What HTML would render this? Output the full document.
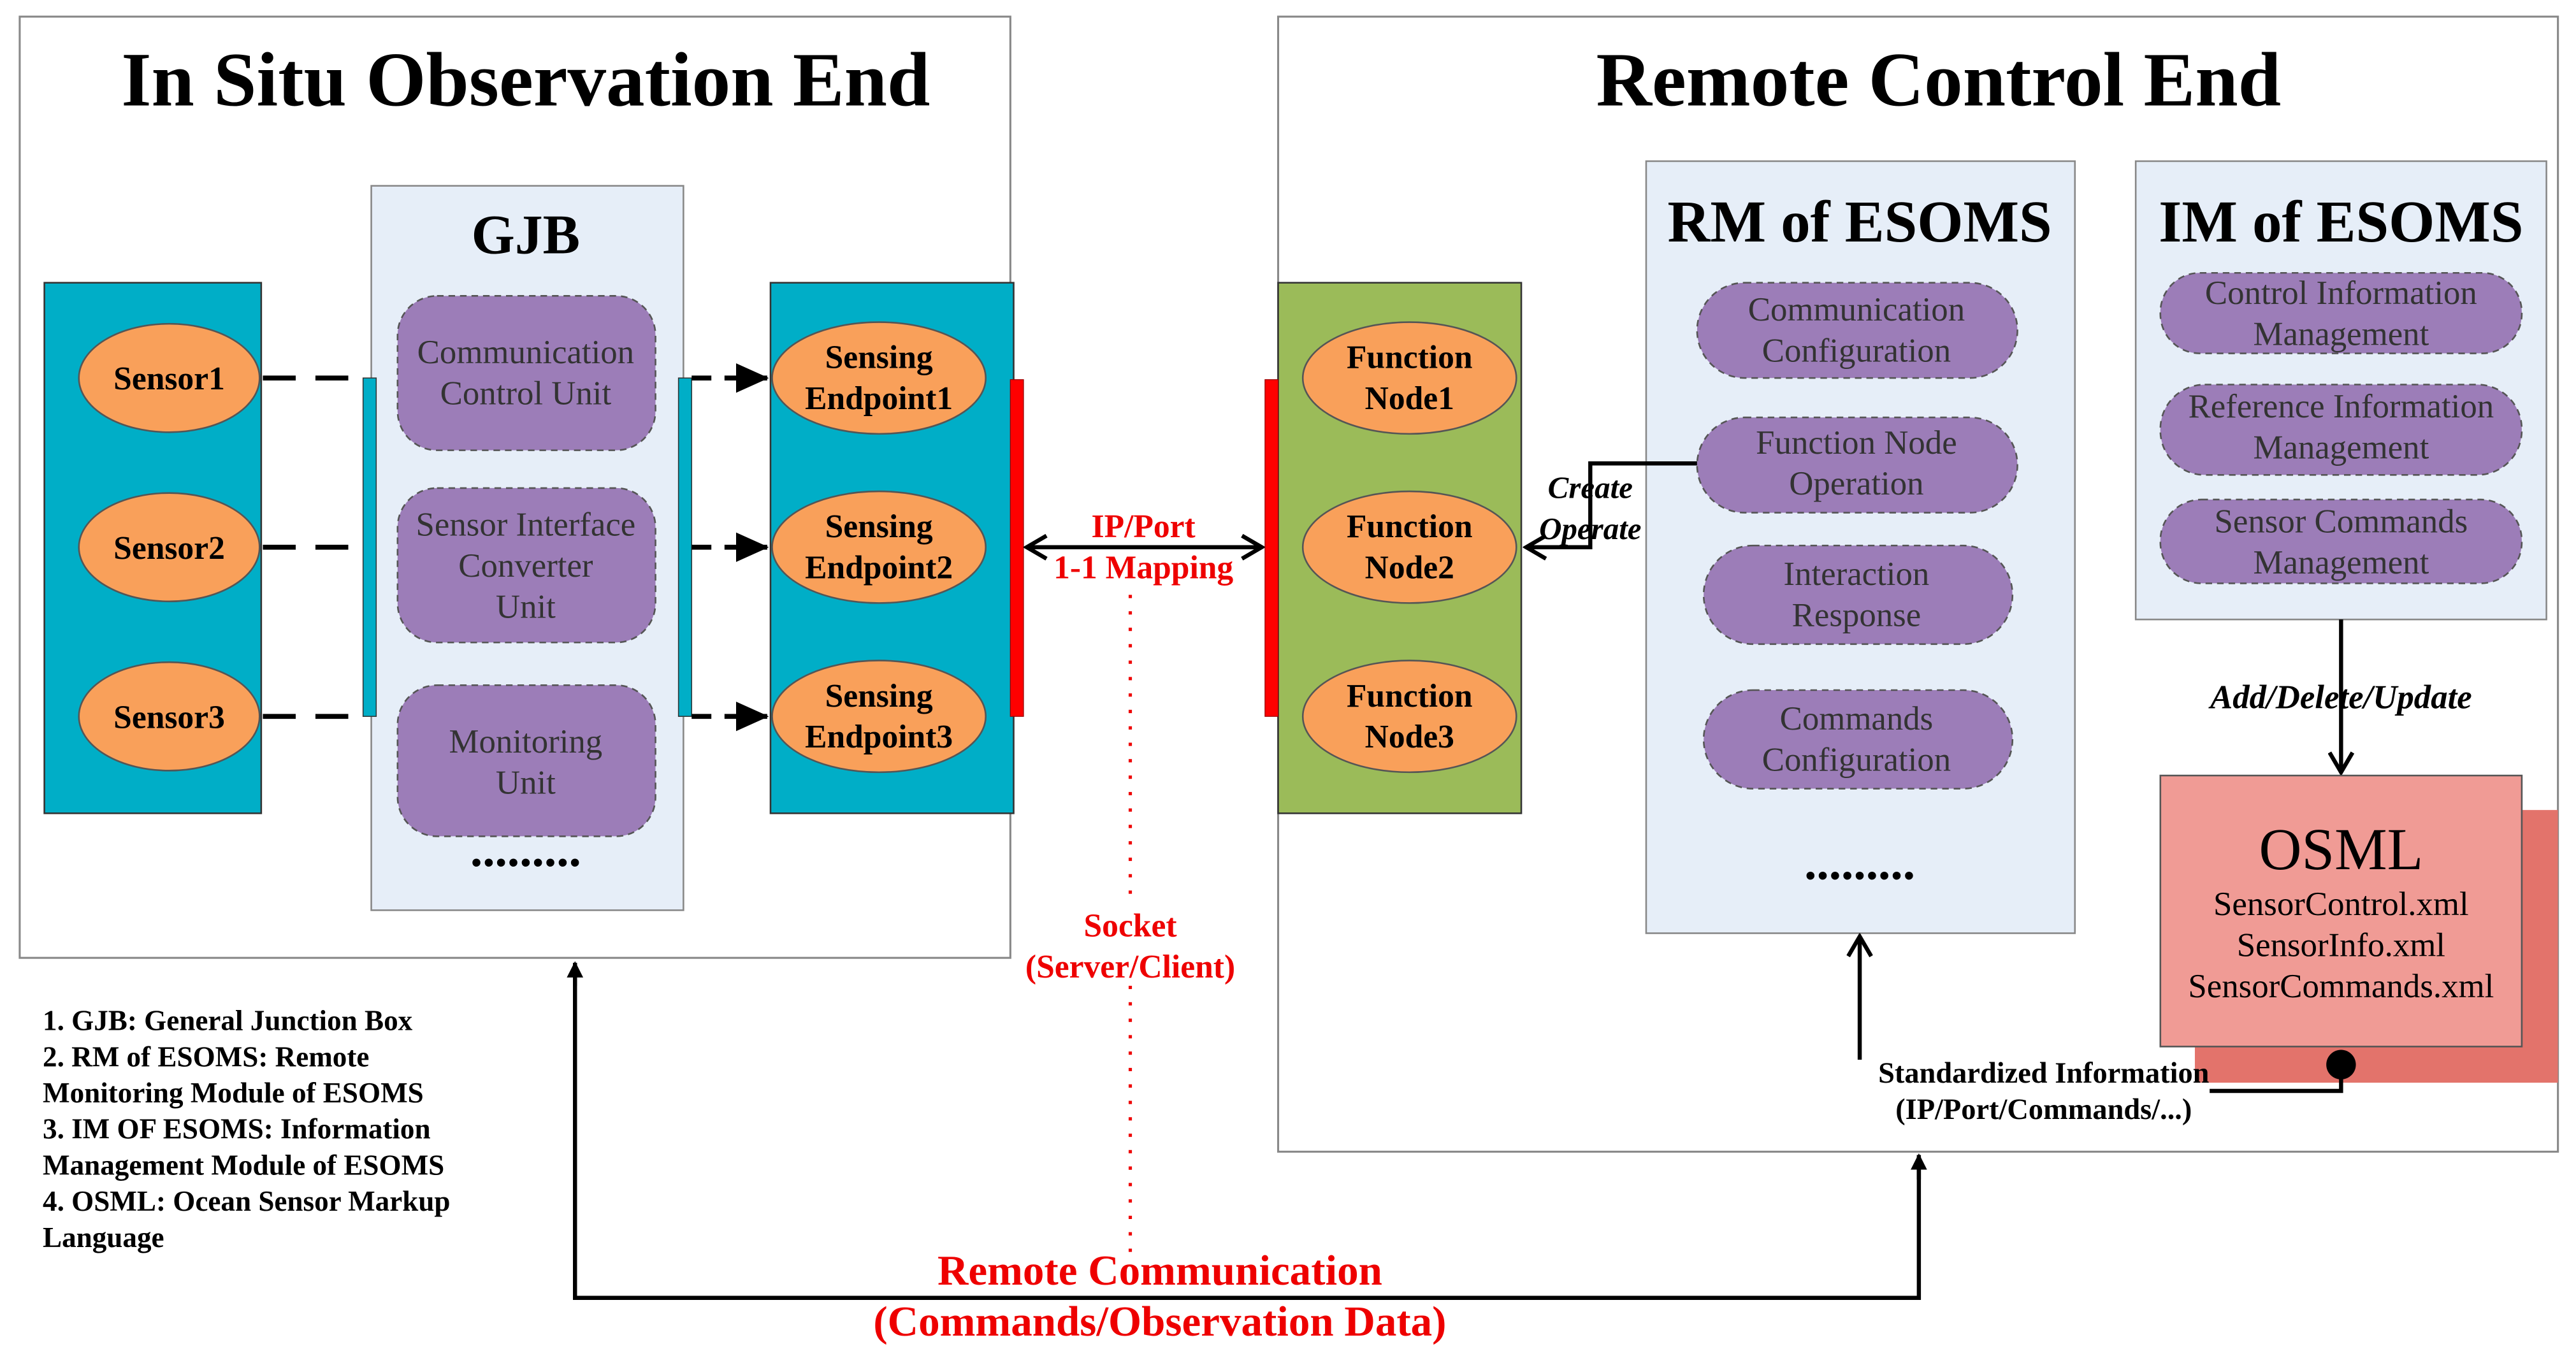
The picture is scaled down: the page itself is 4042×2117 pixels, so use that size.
<!DOCTYPE html>
<html><head><meta charset="utf-8"><style>html,body{margin:0;padding:0;background:#fff}svg{display:block}text{font-family:"Liberation Serif",serif}</style></head><body>
<svg width="4042" height="2117" viewBox="0 0 1568 821" xmlns="http://www.w3.org/2000/svg">
<defs>
<marker id="fa" markerWidth="10" markerHeight="10" refX="9" refY="5" orient="auto" markerUnits="userSpaceOnUse"><path d="M0,0 L10,5 L0,10 z" fill="#000"/></marker>
<marker id="fb" markerWidth="20" markerHeight="18" refX="19" refY="9" orient="auto" markerUnits="userSpaceOnUse"><path d="M0,0 L20,9 L0,18 z" fill="#000"/></marker>
<marker id="oa" markerWidth="16" markerHeight="16" refX="14" refY="8" orient="auto-start-reverse" markerUnits="userSpaceOnUse"><path d="M2,1 L14,8 L2,15" fill="none" stroke="#000" stroke-width="2.5"/></marker>
</defs>
<rect x="12" y="10" width="603" height="573" fill="#fff" stroke="#888" stroke-width="1.2"/>
<text x="320" y="64" font-size="47" font-weight="bold" text-anchor="middle">In Situ Observation End</text>
<rect x="27" y="172" width="132" height="323" fill="#00aec7" stroke="#333" stroke-width="1"/>
<g fill="#f9a05a" stroke="#555" stroke-width="1">
<ellipse cx="103" cy="230" rx="55" ry="33"/><ellipse cx="103" cy="333" rx="55" ry="33"/><ellipse cx="103" cy="436" rx="55" ry="33"/>
</g>
<g font-size="20" font-weight="bold" text-anchor="middle">
<text x="103" y="237">Sensor1</text><text x="103" y="340">Sensor2</text><text x="103" y="443">Sensor3</text>
</g>
<g stroke="#000" stroke-width="3" stroke-dasharray="20,12">
<line x1="160" y1="230" x2="222" y2="230"/><line x1="160" y1="333" x2="222" y2="333"/><line x1="160" y1="436" x2="222" y2="436"/>
</g>
<rect x="226" y="113" width="190" height="441" fill="#e6eef8" stroke="#888"/>
<rect x="221" y="230" width="8" height="206" fill="#00aec7" stroke="#333" stroke-width="0.6"/>
<text x="320" y="154" font-size="34" font-weight="bold" text-anchor="middle">GJB</text>
<g fill="#9c7db8" stroke="#555" stroke-dasharray="4,3">
<rect x="242" y="180" width="157" height="94" rx="24"/><rect x="242" y="297" width="157" height="94" rx="24"/><rect x="242" y="417" width="157" height="92" rx="24"/>
</g>
<g font-size="20.5" fill="#333" text-anchor="middle">
<text x="320" y="221">Communication</text><text x="320" y="246">Control Unit</text>
<text x="320" y="326">Sensor Interface</text><text x="320" y="351">Converter</text><text x="320" y="376">Unit</text>
<text x="320" y="458">Monitoring</text><text x="320" y="483">Unit</text>
</g>
<text x="320" y="527" font-size="30" font-weight="bold" text-anchor="middle">.........</text>
<rect x="413" y="230" width="8" height="206" fill="#00aec7" stroke="#333" stroke-width="0.6"/>
<g stroke="#000" stroke-width="3" stroke-dasharray="12,8">
<line x1="421" y1="230" x2="467" y2="230" marker-end="url(#fb)"/><line x1="421" y1="333" x2="467" y2="333" marker-end="url(#fb)"/><line x1="421" y1="436" x2="467" y2="436" marker-end="url(#fb)"/>
</g>
<rect x="469" y="172" width="148" height="323" fill="#00aec7" stroke="#333"/>
<g fill="#f9a05a" stroke="#555"><ellipse cx="535" cy="230" rx="65" ry="34"/><ellipse cx="535" cy="333" rx="65" ry="34"/><ellipse cx="535" cy="436" rx="65" ry="34"/></g>
<g font-size="20" font-weight="bold" text-anchor="middle">
<text x="535" y="224">Sensing</text><text x="535" y="249">Endpoint1</text>
<text x="535" y="327">Sensing</text><text x="535" y="352">Endpoint2</text>
<text x="535" y="430">Sensing</text><text x="535" y="455">Endpoint3</text>
</g>
<rect x="615" y="231" width="8" height="205" fill="#f00" stroke="#900" stroke-width="0.5"/>
<line x1="625" y1="333" x2="768" y2="333" stroke="#000" stroke-width="2.5" marker-start="url(#oa)" marker-end="url(#oa)"/>
<g fill="#e00" font-size="20" font-weight="bold" text-anchor="middle">
<text x="696" y="327">IP/Port</text><text x="696" y="352">1-1 Mapping</text>
<text x="688" y="570">Socket</text><text x="688" y="595">(Server/Client)</text>
<text x="706" y="782" font-size="26">Remote Communication</text><text x="706" y="813" font-size="26">(Commands/Observation Data)</text>
</g>
<line x1="688" y1="362" x2="688" y2="545" stroke="#e00" stroke-width="2" stroke-dasharray="2,8"/>
<line x1="688" y1="600" x2="688" y2="762" stroke="#e00" stroke-width="2" stroke-dasharray="2,8"/>
<rect x="778" y="10" width="779" height="691" fill="#fff" stroke="#888" stroke-width="1.2"/>
<text x="1180" y="64" font-size="47" font-weight="bold" text-anchor="middle">Remote Control End</text>
<rect x="778" y="172" width="148" height="323" fill="#9bbb59" stroke="#333"/>
<rect x="770" y="231" width="8" height="205" fill="#f00" stroke="#900" stroke-width="0.5"/>
<g fill="#f9a05a" stroke="#555"><ellipse cx="858" cy="230" rx="65" ry="34"/><ellipse cx="858" cy="333" rx="65" ry="34"/><ellipse cx="858" cy="436" rx="65" ry="34"/></g>
<g font-size="20" font-weight="bold" text-anchor="middle">
<text x="858" y="224">Function</text><text x="858" y="249">Node1</text>
<text x="858" y="327">Function</text><text x="858" y="352">Node2</text>
<text x="858" y="430">Function</text><text x="858" y="455">Node3</text>
</g>
<rect x="1002" y="98" width="261" height="470" fill="#e6eef8" stroke="#888"/>
<text x="1132" y="147" font-size="36" font-weight="bold" text-anchor="middle">RM of ESOMS</text>
<g fill="#9c7db8" stroke="#555" stroke-dasharray="4,3">
<rect x="1033" y="172" width="195" height="58" rx="29"/><rect x="1033" y="254" width="195" height="58" rx="29"/><rect x="1037" y="332" width="188" height="60" rx="30"/><rect x="1037" y="420" width="188" height="60" rx="30"/>
</g>
<g font-size="20.5" fill="#333" text-anchor="middle">
<text x="1130" y="195">Communication</text><text x="1130" y="220">Configuration</text>
<text x="1130" y="276">Function Node</text><text x="1130" y="301">Operation</text>
<text x="1130" y="356">Interaction</text><text x="1130" y="381">Response</text>
<text x="1130" y="444">Commands</text><text x="1130" y="469">Configuration</text>
</g>
<text x="1132" y="535" font-size="30" font-weight="bold" text-anchor="middle">.........</text>
<polyline points="1033,282 968,282 968,333 929,333" fill="none" stroke="#000" stroke-width="2.5" marker-end="url(#oa)"/>
<g font-size="19" font-weight="bold" font-style="italic" text-anchor="middle">
<text x="968" y="303">Create</text><text x="968" y="328">Operate</text>
<text x="1425" y="431" font-size="20.5">Add/Delete/Update</text>
</g>
<rect x="1300" y="98" width="250" height="279" fill="#e6eef8" stroke="#888"/>
<text x="1425" y="147" font-size="36" font-weight="bold" text-anchor="middle">IM of ESOMS</text>
<g fill="#9c7db8" stroke="#555" stroke-dasharray="4,3">
<rect x="1315" y="166" width="220" height="49" rx="24"/><rect x="1315" y="234" width="220" height="55" rx="27"/><rect x="1315" y="304" width="220" height="51" rx="25"/>
</g>
<g font-size="20.5" fill="#333" text-anchor="middle">
<text x="1425" y="185">Control Information</text><text x="1425" y="210">Management</text>
<text x="1425" y="254">Reference Information</text><text x="1425" y="279">Management</text>
<text x="1425" y="324">Sensor Commands</text><text x="1425" y="349">Management</text>
</g>
<line x1="1425" y1="377" x2="1425" y2="470" stroke="#000" stroke-width="2.5" marker-end="url(#oa)"/>
<rect x="1336" y="493" width="221" height="166" fill="#e3736b"/>
<rect x="1315" y="472" width="220" height="165" fill="#f09b95" stroke="#555"/>
<text x="1425" y="529" font-size="36" text-anchor="middle">OSML</text>
<g font-size="20.5" text-anchor="middle"><text x="1425" y="557">SensorControl.xml</text><text x="1425" y="582">SensorInfo.xml</text><text x="1425" y="607">SensorCommands.xml</text></g>
<circle cx="1425" cy="648" r="9" fill="#000"/>
<polyline points="1425,648 1425,664 1345,664" fill="none" stroke="#000" stroke-width="2.5"/>
<g font-size="18" font-weight="bold" text-anchor="middle"><text x="1244" y="659">Standardized Information</text><text x="1244" y="681">(IP/Port/Commands/...)</text></g>
<line x1="1132" y1="645" x2="1132" y2="570" stroke="#000" stroke-width="2.5" marker-end="url(#oa)"/>
<polyline points="350,587 350,790 1168,790 1168,705" fill="none" stroke="#000" stroke-width="2.5"/>
<line x1="350" y1="600" x2="350" y2="586" stroke="#000" stroke-width="2.5" marker-end="url(#fa)"/>
<line x1="1168" y1="718" x2="1168" y2="703" stroke="#000" stroke-width="2.5" marker-end="url(#fa)"/>
<g font-size="17.5" font-weight="bold">
<text x="26" y="627">1. GJB: General Junction Box</text>
<text x="26" y="649">2. RM of ESOMS: Remote</text>
<text x="26" y="671">Monitoring Module of ESOMS</text>
<text x="26" y="693">3. IM OF ESOMS: Information</text>
<text x="26" y="715">Management Module of ESOMS</text>
<text x="26" y="737">4. OSML: Ocean Sensor Markup</text>
<text x="26" y="759">Language</text>
</g>
</svg>
</body></html>
